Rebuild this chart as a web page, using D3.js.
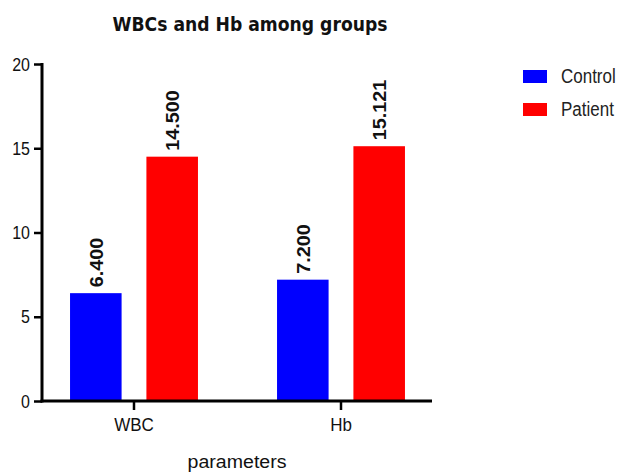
<!DOCTYPE html>
<html><head><meta charset="utf-8">
<script src="https://cdn.jsdelivr.net/npm/d3@7"></script>
<style>body{margin:0;background:#fff}</style>
</head><body>
<svg id="c" width="621" height="472"></svg>
<script>
const groups = ["WBC", "Hb"];
const series = ["Control", "Patient"];
const control = [6.4, 7.2];
const patient = [14.5, 15.121];
const labels = [["6.400", "7.200"], ["14.500", "15.121"]];
const yTicks = [0, 5, 10, 15, 20];
const colors = ["#0000FF", "#FF0000"];

const svg = d3.select("#c");
const FONT = "Liberation Sans, Arial, sans-serif";
const axL = 42, axR = 432, yTop = 64, yBot = 401;
const y = d3.scaleLinear().domain([0, 20]).range([yBot, yTop]);
const x0 = d3.scaleBand().domain(groups).range([30.5, 444.5]).paddingInner(0.382).paddingOuter(0.191);
const x1 = d3.scaleBand().domain(series).range([0, x0.bandwidth()]).paddingInner(0.325).paddingOuter(0);
const vals = [control, patient];

svg.append("text").attr("transform", "translate(250,31) scale(1,1.1)").attr("text-anchor", "middle")
  .attr("font-family", "DejaVu Sans").attr("font-weight", "bold").attr("font-size", 17.2)
  .attr("fill", "#111").text("WBCs and Hb among groups");

const g = svg.append("g");
series.forEach((s, si) => {
  groups.forEach((grp, gi) => {
    const v = vals[si][gi];
    const bx = x0(grp) + x1(s);
    g.append("rect").attr("x", bx).attr("y", y(v)).attr("width", x1.bandwidth())
      .attr("height", y(0) - y(v)).attr("fill", colors[si]);
    const cx = bx + x1.bandwidth() / 2;
    const ty = y(v) - 6;
    g.append("text").attr("transform", `translate(${cx + 7},${ty}) rotate(-90) scale(1.1,1)`)
      .attr("font-family", FONT).attr("font-weight", "bold").attr("font-size", 18)
      .attr("fill", "#111").text(labels[si][gi]);
  });
});

// y axis
const ya = svg.append("g").attr("transform", `translate(${axL},0)`)
  .call(d3.axisLeft(y).tickValues(yTicks).tickSize(8).tickSizeOuter(0).tickFormat(d3.format("d")));
ya.select(".domain").remove();
ya.selectAll(".tick line").attr("stroke", "#000").attr("stroke-width", 2.5);
ya.selectAll(".tick text").attr("font-family", FONT).attr("font-size", 16)
  .attr("fill", "#111").attr("x", null).attr("dy", null)
  .attr("transform", "translate(-12,6) scale(1,1.15)");

// x axis
const xa = svg.append("g").attr("transform", `translate(0,${yBot})`)
  .call(d3.axisBottom(x0).tickSize(9).tickSizeOuter(0));
xa.select(".domain").remove();
xa.selectAll(".tick line").attr("stroke", "#000").attr("stroke-width", 2.5);
xa.selectAll(".tick text").attr("font-family", FONT).attr("font-size", 17)
  .attr("fill", "#111").attr("y", null).attr("dy", null)
  .attr("transform", "translate(0,29.5) scale(1,1.05)");

svg.append("line").attr("x1", axL).attr("x2", axL).attr("y1", yTop - 1).attr("y2", yBot + 1.5)
  .attr("stroke", "#000").attr("stroke-width", 3);
svg.append("line").attr("x1", axL - 1.5).attr("x2", axR).attr("y1", yBot).attr("y2", yBot)
  .attr("stroke", "#000").attr("stroke-width", 3);

svg.append("text").attr("transform", "translate(237,468) scale(1.12,1)").attr("text-anchor", "middle")
  .attr("font-family", FONT).attr("font-size", 17.5).attr("fill", "#111").text("parameters");

// legend
series.forEach((s, i) => {
  const ly = 70 + i * 33;
  svg.append("rect").attr("x", 523).attr("y", ly).attr("width", 24).attr("height", 13).attr("fill", colors[i]);
  svg.append("text").attr("transform", `translate(561,${ly + 13}) scale(1,1.15)`).attr("font-family", FONT)
    .attr("font-size", 17).attr("fill", "#222").text(s);
});
</script>
</body></html>
